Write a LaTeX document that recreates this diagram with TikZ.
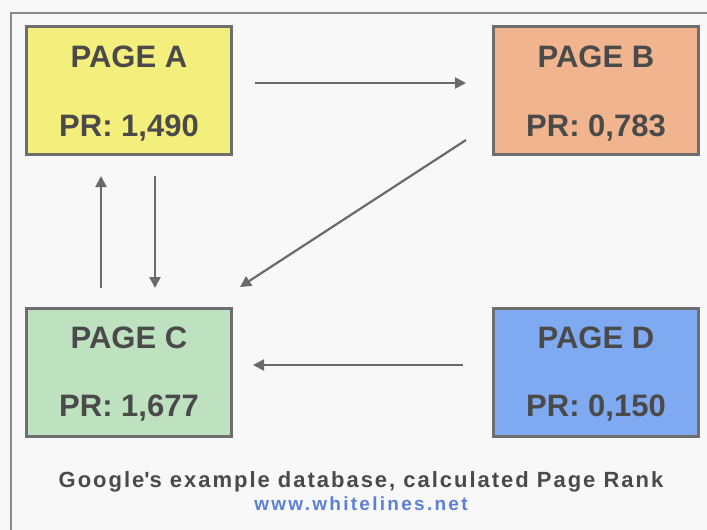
\documentclass[tikz,border=0pt]{standalone}
\usepackage{fontspec}
\setmainfont{Liberation Sans}
\usetikzlibrary{arrows.meta}
\definecolor{bgc}{HTML}{F8F8F8}
\definecolor{edge}{HTML}{6E6E6E}
\definecolor{txt}{HTML}{4A4A4A}
\definecolor{fillA}{HTML}{F4EF7C}
\definecolor{fillB}{HTML}{F0B58E}
\definecolor{fillC}{HTML}{BEE2C0}
\definecolor{fillD}{HTML}{7FA9F0}
\definecolor{link}{HTML}{5C80D6}
\definecolor{arr}{HTML}{6A6A6A}
\tikzset{
  pagebox/.style={draw=edge, line width=3pt, minimum width=205pt, minimum height=128pt, inner sep=0pt},
  pagelabel/.style={text=txt, font=\fontsize{31}{33}\selectfont\bfseries},
  linkarrow/.style={draw=arr, line width=2.2pt, -{Triangle[length=11pt,width=11pt]}}
}
\begin{document}
\begin{tikzpicture}[x=1pt,y=-1pt]
  \useasboundingbox (0,0) rectangle (707,530);
  \fill[bgc] (0,0) rectangle (707,530);
  % outer frame (top and left sides visible)
  \draw[edge!80, line width=2pt] (11,530) -- (11,13) -- (707,13);

  % the four pages
  \node[pagebox, fill=fillA] (A) at (129,90) {};
  \node[pagebox, fill=fillB] (B) at (596,90) {};
  \node[pagebox, fill=fillC] (C) at (129,372) {};
  \node[pagebox, fill=fillD] (D) at (596,372) {};

  \node[pagelabel] (At) at (129,57) {PAGE A};
  \node[pagelabel] (Ar) at (129,128) {PR: 1,490};
  \node[pagelabel] (Bt) at (596,57) {PAGE B};
  \node[pagelabel] (Br) at (596,128) {PR: 0,783};
  \node[pagelabel] (Ct) at (129,338) {PAGE C};
  \node[pagelabel] (Cr) at (129,408) {PR: 1,677};
  \node[pagelabel] (Dt) at (596,338) {PAGE D};
  \node[pagelabel] (Dr) at (596,408) {PR: 0,150};

  % link end points
  \coordinate (ab1) at (255,83);  \coordinate (ab2) at (466,83);
  \coordinate (ca1) at (101,288); \coordinate (ca2) at (101,176);
  \coordinate (ac1) at (155,176); \coordinate (ac2) at (155,288);
  \coordinate (bc1) at (466,140); \coordinate (bc2) at (240,287);
  \coordinate (dc1) at (463,365); \coordinate (dc2) at (253,365);

  \draw[linkarrow] (ab1) -- (ab2);
  \draw[linkarrow] (ca1) -- (ca2);
  \draw[linkarrow] (ac1) -- (ac2);
  \draw[linkarrow] (bc1) -- (bc2);
  \draw[linkarrow] (dc1) -- (dc2);

  % caption
  \node[text=txt, font=\fontsize{22}{24}\selectfont\bfseries\addfontfeature{LetterSpace=9}] (cap) at (361,482)
    {Google\textquotesingle s example database, calculated Page Rank};
  \node[text=link, font=\fontsize{19}{21}\selectfont\bfseries\addfontfeature{LetterSpace=12}] (url) at (361,504)
    {www.whitelines.net};
\end{tikzpicture}
\end{document}
